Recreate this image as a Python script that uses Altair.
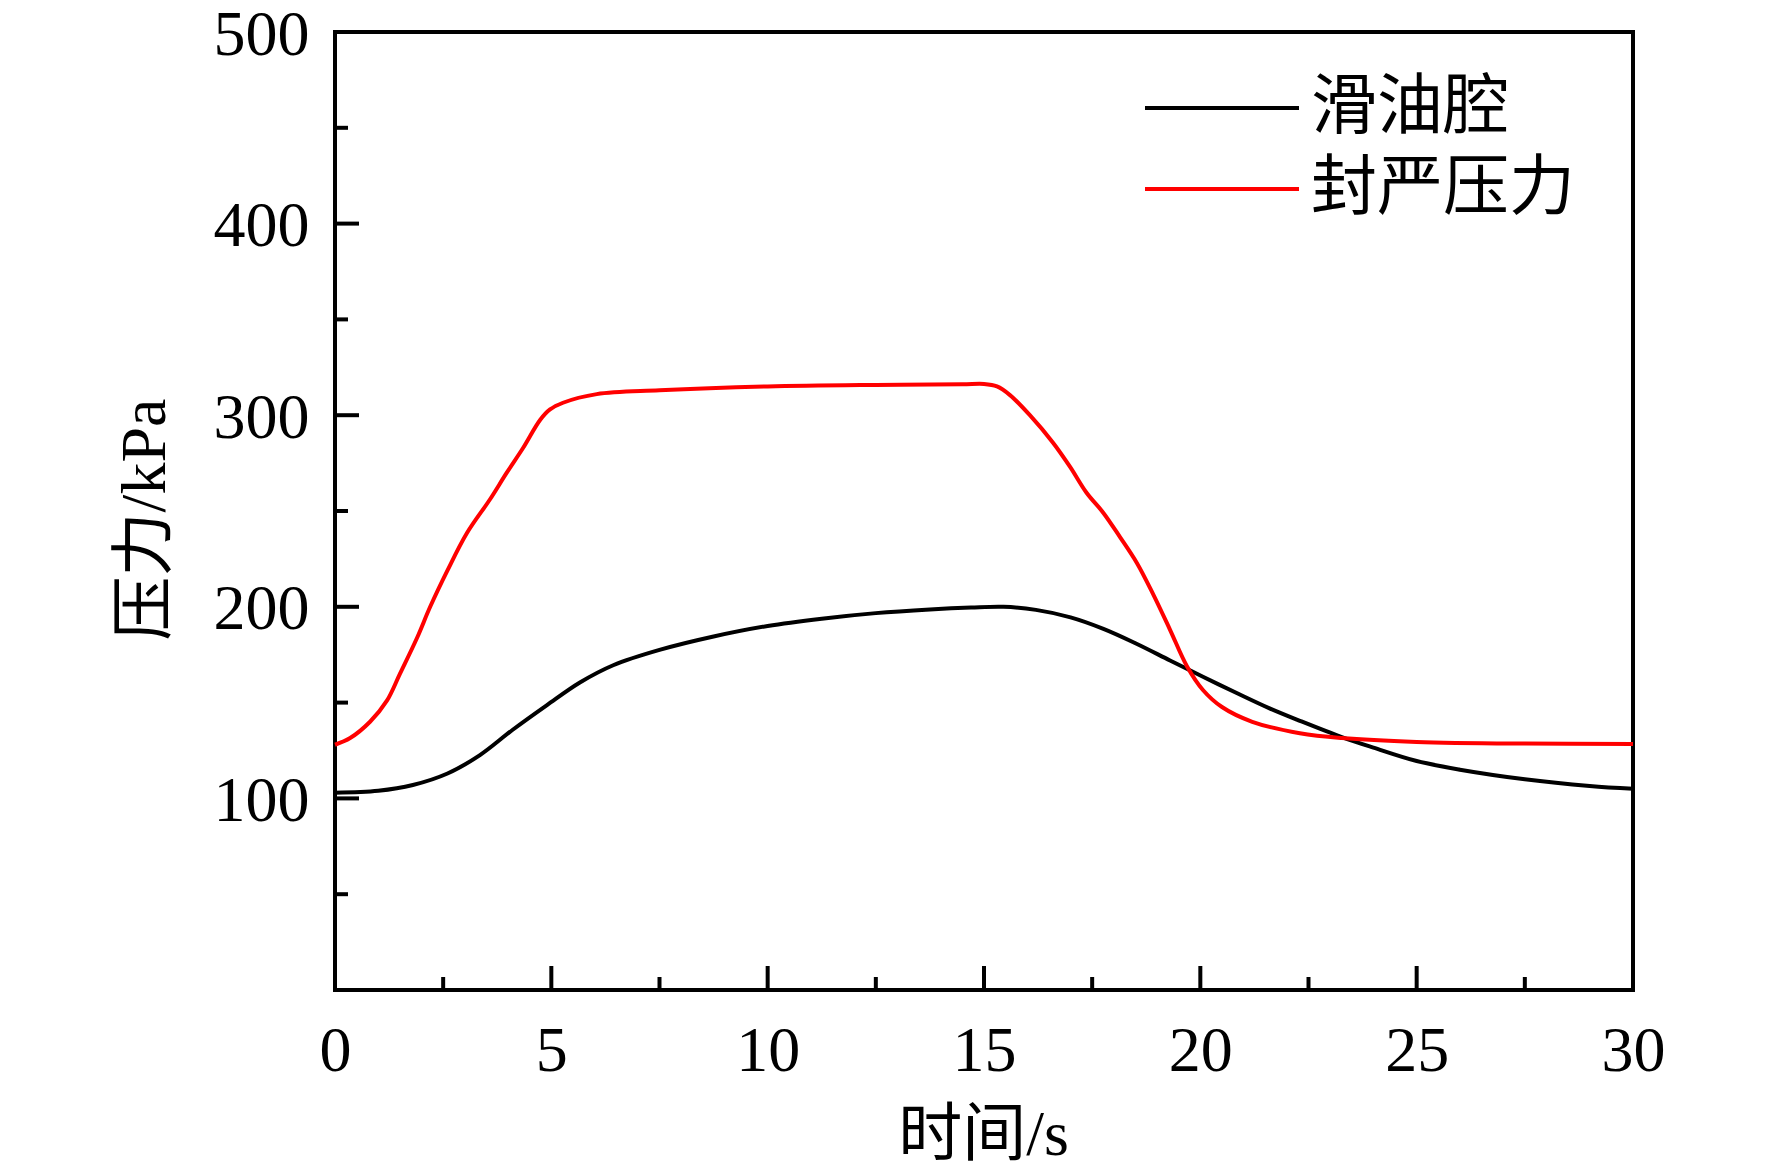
import altair as alt
import pandas as pd

# ---- data ----
series_names = ["滑油腔", "封严压力"]

t_oil = [0, 1, 1.8, 2.6, 3.35, 4.1, 4.9, 5.66, 6.43, 7.5, 8.75, 10, 11.25, 12.5, 13.75,
         14.7, 15.45, 16.2, 17, 17.76, 18.5, 19.3, 20.06, 20.84, 21.6, 22.3, 23.27, 24,
         25, 26, 27.5, 29, 30]
p_oil = [103, 104, 107, 113, 122.6, 135.7, 148.7, 160.5, 169.5, 177.5, 184.5, 190, 193.8, 196.7, 198.6,
         199.6, 200, 198.4, 194.5, 188.5, 181, 172, 163.5, 155, 147, 140.5, 132, 126.5,
         119.5, 115, 110, 106.5, 105]

t_seal = [0, 0.35, 0.81, 1.2, 1.5, 1.9, 2.2, 2.6, 3.05, 3.58, 3.97, 4.35, 4.74, 4.97, 5.27,
          6.05, 7.5, 10, 12.5, 14.5, 15.0, 15.3, 15.6, 16.06, 16.6, 16.99, 17.37, 17.76, 18.14,
          18.53, 18.9, 19.3, 19.69, 20.06, 20.5, 21.2, 22.3, 23.27, 25, 27.5, 30]
p_seal = [128, 131.5, 140, 151, 165, 184, 200, 219, 238.5, 256, 270, 283, 297.5, 303, 306.5,
          311, 313, 315, 315.8, 316.1, 316.3, 315, 310.5, 300, 285.5, 273, 259.5, 249, 236.5,
          223, 207, 188, 169, 156.6, 147.7, 140, 134, 131.5, 129.5, 128.6, 128.4]

x_major = [0, 5, 10, 15, 20, 25, 30]
x_minor = [2.5, 7.5, 12.5, 17.5, 22.5, 27.5]
y_labels = [100, 200, 300, 400, 500]
y_major = [100, 200, 300, 400]
y_minor = [50, 150, 250, 350, 450]

x_title = "时间/s"
y_title = "压力/kPa"

# ---- build tables ----
df = pd.concat([
    pd.DataFrame({"t": t_oil, "p": p_oil, "s": series_names[0]}),
    pd.DataFrame({"t": t_seal, "p": p_seal, "s": series_names[1]}),
])

W, H = 1298, 958
FONT = "Liberation Serif, Noto Sans CJK SC"

xs = alt.Scale(domain=[0, 30], nice=False, zero=False)
ys = alt.Scale(domain=[0, 500], nice=False, zero=False)

lines = alt.Chart(df).mark_line(strokeWidth=4, interpolate="catmull-rom").encode(
    x=alt.X("t:Q", scale=xs,
            axis=alt.Axis(values=x_major, title=x_title, grid=False, ticks=False, tickSize=0,
                          domain=False, labelPadding=29, labelFontSize=64, labelFont=FONT,
                          labelColor="black", titleFont=FONT, titleFontSize=64,
                          titleFontWeight="normal", titleColor="black",
                          titleX=648, titleY=145, titleBaseline="middle", titleAlign="center",
                          labelFlush=False, labelOverlap=False)),
    y=alt.Y("p:Q", scale=ys,
            axis=alt.Axis(values=y_labels, title=y_title, grid=False, ticks=False, tickSize=0,
                          domain=False, labelPadding=26, labelFontSize=64, labelFont=FONT,
                          labelColor="black", labelOffset=3, titleFont=FONT, titleFontSize=64,
                          titleFontWeight="normal", titleColor="black",
                          titleX=-190, titleY=487, titleBaseline="middle", titleAlign="center",
                          titleAngle=270, labelFlush=False, labelOverlap=False)),
    color=alt.Color("s:N", sort=series_names,
                    scale=alt.Scale(domain=series_names, range=["#000000", "#ff0000"]),
                    legend=alt.Legend(title=None, orient="none", legendX=808, legendY=43,
                                      symbolType="stroke", symbolSize=23716,
                                      symbolStrokeWidth=4, clipHeight=66, rowPadding=15,
                                      labelOffset=10, labelFontSize=66, labelFont=FONT,
                                      labelColor="black", labelLimit=600, padding=0,
                                      labelBaseline="middle")),
)

def xticks(vals, length):
    return alt.Chart(pd.DataFrame({"t": vals})).mark_rule(color="black", strokeWidth=4).encode(
        x=alt.X("t:Q", scale=xs), y=alt.value(H), y2=alt.value(H - length))

def yticks(vals, length):
    return alt.Chart(pd.DataFrame({"p": vals})).mark_rule(color="black", strokeWidth=4).encode(
        y=alt.Y("p:Q", scale=ys), x=alt.value(0), x2=alt.value(length))

chart = alt.layer(
    lines,
    xticks(x_major, 24), xticks(x_minor, 13),
    yticks(y_major, 24), yticks(y_minor, 13),
).properties(
    width=W, height=H,
    background="white",
    autosize=alt.AutoSizeParams(type="none"),
    padding={"left": 327, "top": 24, "right": 130, "bottom": 180},
).configure_view(stroke="black", strokeWidth=4)

chart.save("out.html", embed_options={"renderer": "svg", "actions": False})
